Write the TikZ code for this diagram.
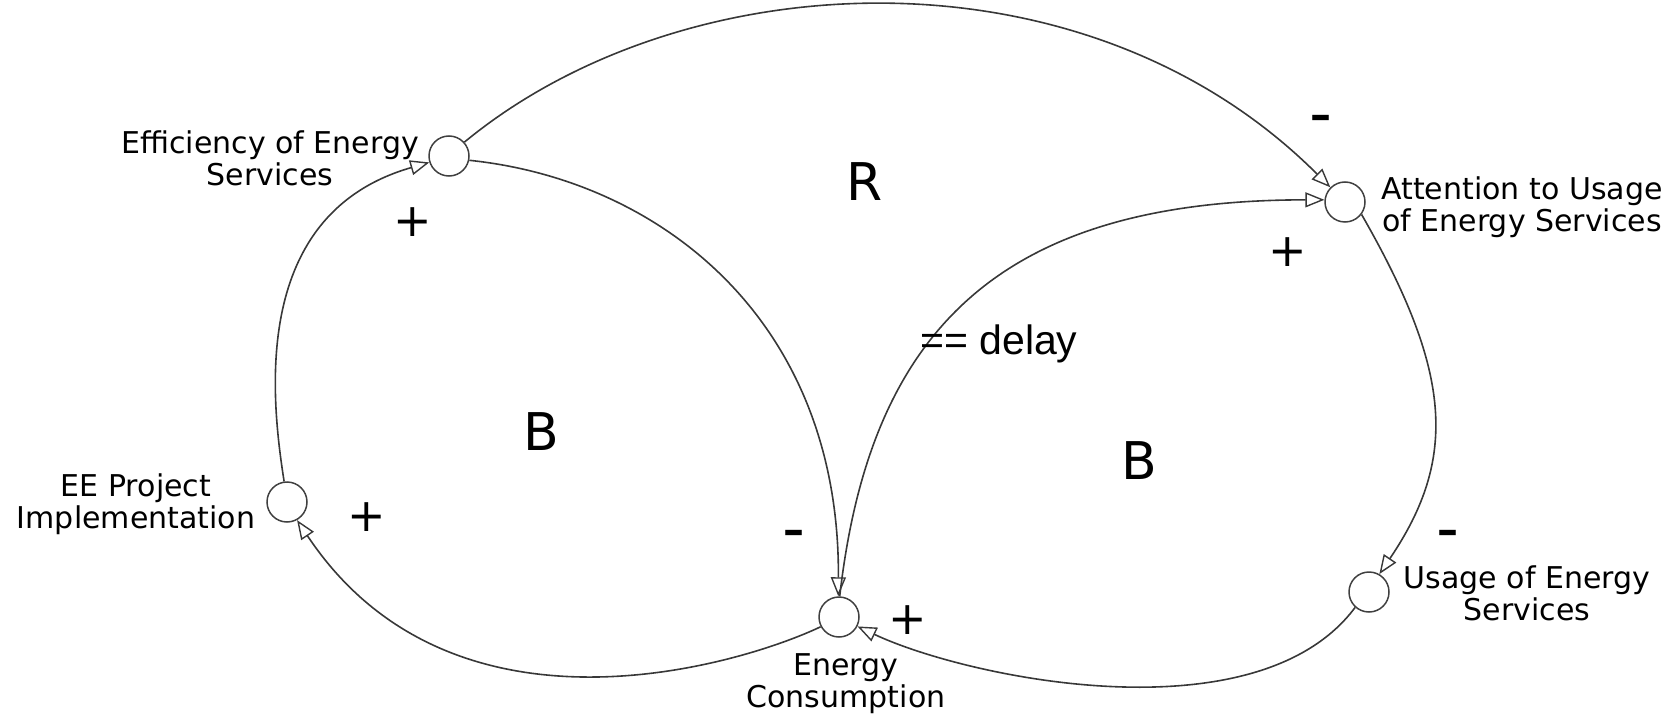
\documentclass[tikz,border=0pt]{standalone}
\usepackage{fontspec}
\setmainfont{DejaVu Sans}
\newfontfamily\delayfont{Liberation Sans}
\usetikzlibrary{arrows.meta}
\begin{document}
\begin{tikzpicture}[x=1pt,y=-1pt,
  var/.style={circle,draw=black!75,line width=1.5pt,minimum size=40pt,inner sep=0pt},
  lbl/.style={align=center,font=\fontsize{30}{32}\selectfont,inner sep=0pt},
  link/.style={draw=black!78,line width=1.6pt,-{Triangle[open,length=19pt,width=15pt,line width=1.4pt]}},
  loopname/.style={font=\fontsize{52}{60}\selectfont,inner sep=0pt},
  pol/.style={font=\fontsize{46}{50}\selectfont,inner sep=0pt},
  neg/.style={font=\bfseries\fontsize{42}{50}\selectfont,inner sep=0pt}]
\useasboundingbox (0,0) rectangle (1678,714);
% variables
\node[var] (eff) at (449,156) {};
\node[var] (att) at (1345,202) {};
\node[var] (ee) at (287,502) {};
\node[var] (ec) at (839,617) {};
\node[var] (use) at (1369,592) {};
% labels
\node[lbl] (efflbl) at (270,158) {Efficiency of Energy\\Services};
\node[lbl] (attlbl) at (1522,207) {Attention to Usage\\of Energy Services};
\node[lbl] (eelbl) at (136,504) {EE Project\\Implementation};
\node[lbl] (eclbl) at (846,684) {Energy\\Consumption};
\node[lbl] (uselbl) at (1527,593) {Usage of Energy\\Services};
% links
\draw[link] (eff.42) .. controls (684,-39) and (1085,-58) .. (att.135);
\draw[link] (eff.-12) .. controls (660,180) and (840,320) .. (ec.92);
\draw[link] (ec.88) .. controls (870,330) and (1000,200) .. (att.174);
\draw[link] (att.-37) .. controls (1452,372) and (1458,458) .. (use.60);
\draw[link] (use.228) .. controls (1257,739) and (967,678) .. (ec.-27);
\draw[link] (ec.208) .. controls (747,662) and (454,756) .. (ee.-61);
\draw[link] (ee.98) .. controls (271,398) and (250,214) .. (eff.198);
% loop names
\node[loopname] (r) at (865,182) {R};
\node[loopname] (b1) at (541,432) {B};
\node[loopname] (b2) at (1139,461) {B};
% polarities
\node[pol] (p1) at (413,222) {+};
\node[neg] (p2) at (1321,122) {–};
\node[pol] (p3) at (1288,252) {+};
\node[pol] (p4) at (367,517) {+};
\node[neg] (p5) at (794,537) {–};
\node[pol] (p6) at (908,620) {+};
\node[neg] (p7) at (1448,537) {–};
% delay mark
\node[anchor=base west,inner sep=0pt,font=\delayfont\fontsize{41}{48}\selectfont] (delay) at (920,354) {== delay};
\end{tikzpicture}
\end{document}
